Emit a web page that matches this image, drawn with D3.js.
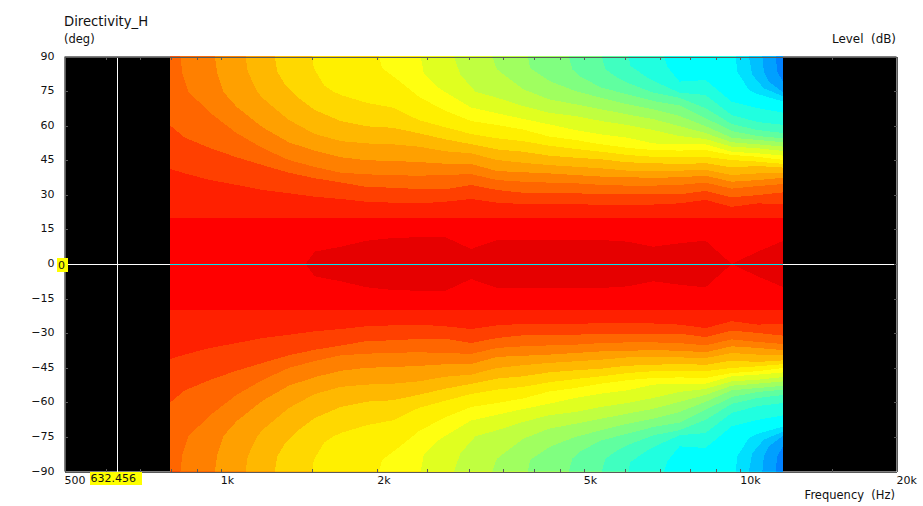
<!DOCTYPE html>
<html><head><meta charset="utf-8">
<script src="https://cdn.jsdelivr.net/npm/d3@7"></script>
<style>
html,body{margin:0;padding:0;background:#fff}
svg{display:block}
text{font-family:"DejaVu Sans",Verdana,sans-serif;font-size:11px;fill:#111;white-space:pre}
</style></head><body><div id="chart"></div>
<script>
// Frequency columns (Hz)
const frequencies = [800,851,955,1072,1203,1351,1516,1702,1910,2144,2407,2702,3033,3404,3821,4289,4814,5403,6065,6807,7641,8577,9628,10807,12130];
// Contour angles (deg). Each list starts with extra points at the frequencies of its h-list
// (where the contour leaves the top edge), then runs to the last frequency column.
const h01 = [], c01 = [20,20,20,20,20,20,20,20,20,20,20,20,20,20,20,20,20,20,20,20,20,20,20,20,20];
const h02 = [], c02 = [41.5,39.3,36.4,34.3,32.1,30.7,29.2,28.2,27.0,26.6,26.3,27.0,28.2,26.6,26.0,26.0,26.0,25.6,25.6,25.8,26.3,27.8,24.8,26.3,25.9];
const h03 = [], c03 = [60.7,54.9,50.2,46.3,42.9,39.6,37.2,35.4,33.4,33.1,32.5,32.4,34.3,32.1,30.9,30.7,30.7,30.2,30.2,30.2,30.2,31.7,28.9,29.9,31.1];
const h04 = [836,843,867], c04 = [90,82.8,74.6,65.5,56.8,50.3,45.1,42.1,39.6,38.9,38.5,38.3,38.6,39.0,36.4,35.7,35.3,35.0,34.3,34.0,34.0,34.3,35.3,32.7,33.8,34.7];
const h05 = [974,984,1012], c05 = [90,82.8,74.6,68.2,59.3,52.8,49.1,46.3,45.0,44.7,44.2,43.5,43.4,40.3,39.8,39.3,38.6,37.9,37.6,37.4,37.6,38.3,35.7,36.4,37.4];
const h06 = [1116,1127,1175], c06 = [90,83.4,74.7,72.0,62.5,56.4,53.3,52.3,51.9,50.9,48.9,48.0,45.1,43.9,42.9,42.2,41.5,40.5,40.5,40.5,40.8,38.6,39.3,39.6];
const h07 = [1270,1284,1332,1403], c07 = [90,83.4,77.6,72.5,66.8,62.0,59.7,59.1,56.7,54.1,52.0,49.7,48.7,47.0,46.1,45.4,44.1,43.8,43.2,43.8,41.9,42.5,41.8];
const h08 = [1500,1510,1579,1651], c08 = [90,84.9,77.6,74.7,73.3,69.9,67.8,62.4,59.3,56.4,54.5,53.3,51.3,49.9,48.7,47.3,46.5,46.3,46.5,45.1,44.4,43.4];
const h09 = [2015,2046,2202], c09 = [90,84.9,79.5,72.5,66.5,62.0,60.3,58.3,55.3,53.8,51.9,50.4,49.4,49.2,49.4,47.3,46.5,45.1];
const h10 = [2425,2460,2611], c10 = [90,82.7,76.9,74.6,67.9,65.4,62.9,60.6,58.1,56.2,54.8,52.3,51.9,51.9,48.7,48.0,47.0];
const h11 = [2810,2895,3094], c11 = [90,82.0,74.7,72.1,68.5,65.6,64.2,62.0,60.3,58.1,55.5,54.2,50.9,50.2,49.0];
const h12 = [3332,3381], c12 = [90,85.9,84.4,75.8,71.4,69.3,67.1,64.9,62.8,59.8,56.8,52.8,51.9,50.9];
const h13 = [3902,3937], c13 = [90,85.1,79.4,75.0,72.1,69.3,67.1,64.2,59.8,54.8,53.8,52.8];
const h14 = [4680,4751,4929], c14 = [90,84.4,81.2,76.5,73.6,70.7,68.8,63.3,57.7,55.5,54.5];
const h15 = [5410,5507,5799], c15 = [90,84.4,80.8,78.6,74.3,72.1,67.6,60.7,58.1,56.8];
const h16 = [6090,6152,6627], c16 = [90,85.9,80.8,79.4,74.3,73.3,64.6,61.6,60.3];
const h17 = [7131,7240], c17 = [90,85.6,79.1,79.8,70.4,67.6,65.6];
const h18 = [9800,9877,10397], c18 = [90,83.4,75.5,73.7,70.4];
const h19 = [10397,10553,11113], c19 = [90,82.0,76.2,72.6];
const h20 = [11033,11113,11361], c20 = [90,83.4,79.1,74.2];
const h21 = [11703,11790], c21 = [90,83.4,78.5];
const contourHeads = [h01,h02,h03,h04,h05,h06,h07,h08,h09,h10,h11,h12,h13,h14,h15,h16,h17,h18,h19,h20,h21];
const contours = [c01,c02,c03,c04,c05,c06,c07,c08,c09,c10,c11,c12,c13,c14,c15,c16,c17,c18,c19,c20,c21];
const bandColors = ["#ff2000","#ff4000","#ff6600","#ff8000","#ffa000","#ffb800","#ffd800","#fff000","#ffff10","#e0ff20","#c0ff40","#a0ff60","#80ff80","#60ffa0","#40ffc0","#20ffe0","#00ffff","#00e0ff","#00c0ff","#00a0ff","#0080ff"];
const baseColor = "#ff0000", coreColor = "#e60000";
// On-axis darker core: half-width (deg) by frequency
const coreFrequencies = [1456,1516,1702,1910,2144,2407,2702,3033,3404,3821,4289,4814,5403,6065,6807,7641,8577,9628,10807,12130];
const coreWidths = [0,5.35,7.5,10.1,11.3,11.6,11.7,6.5,10.4,10.3,10.4,10.4,10.4,9.7,7.5,9,10.1,0,5.35,10.1];
// Axis ticks
const xTicks = [500,600,700,800,900,1000,1500,2000,2500,3000,3500,4000,4500,5000,6000,7000,8000,9000,10000,15000,20000];
const xLabels = new Map([[500,"500"],[1000,"1k"],[2000,"2k"],[5000,"5k"],[10000,"10k"],[20000,"20k"]]);
const yTicks = [90,75,60,45,30,15,0,-15,-30,-45,-60,-75,-90];
const cursorFrequency = 632.456, cursorAngle = 0;

const W = 923, H = 506;
const x = d3.scaleLog().domain([500,20000]).range([64.5,896.5]);
const y = d3.scaleLinear().domain([90,-90]).range([56.5,471.5]);
const svg = d3.select("#chart").append("svg").attr("width",W).attr("height",H);

svg.append("rect").attr("x",x.range()[0]).attr("y",y.range()[0])
  .attr("width",x.range()[1]-x.range()[0]).attr("height",y.range()[1]-y.range()[0]).attr("fill","#000");

const fMin = frequencies[0], fMax = frequencies[frequencies.length-1];
svg.append("clipPath").attr("id","data").append("rect")
  .attr("x",Math.floor(x(fMin))).attr("y",y.range()[0])
  .attr("width",Math.floor(x(fMax))-Math.floor(x(fMin))).attr("height",y.range()[1]-y.range()[0]);
const plot = svg.append("g").attr("clip-path","url(#data)").attr("shape-rendering","crispEdges");

plot.append("rect").attr("x",x(fMin)-2).attr("y",y(90)).attr("width",x(fMax)-x(fMin)+4).attr("height",y(-90)-y(90)).attr("fill",baseColor);

// A contour that starts at the first column is carried 2px further left so its fill meets the clip edge.
const xAt = (f,i) => (i===0 && f===fMin) ? x(f)-2 : x(f);
const band = (freqs,sign) => d3.area()
  .x((d,i)=>xAt(freqs[i],i))
  .y0(d=>y(sign*d))
  .y1(()=>y(sign*180));

contours.forEach((c,k)=>{
  const head = contourHeads[k];
  const freqs = [...head, ...frequencies.slice(frequencies.length-(c.length-head.length))];
  [1,-1].forEach(s=>{
    plot.append("path").attr("d",band(freqs,s)(c)).attr("fill",bandColors[k]);
  });
});

plot.append("path")
  .attr("d",d3.area().x((d,i)=>x(coreFrequencies[i])).y0(d=>y(-d)).y1(d=>y(d))(coreWidths))
  .attr("fill",coreColor);

// Cursor lines
const cx = Math.round(x(cursorFrequency)-0.5)+0.5, cy = y(cursorAngle)+0.5;
svg.append("line").attr("x1",cx).attr("x2",cx).attr("y1",y(90)).attr("y2",y(-90)).attr("stroke","#fff").attr("shape-rendering","crispEdges");
svg.append("line").attr("x1",x(500)).attr("x2",x(20000)).attr("y1",cy).attr("y2",cy).attr("stroke","#fff").attr("shape-rendering","crispEdges");
svg.append("line").attr("x1",Math.floor(x(fMin))).attr("x2",Math.floor(x(fMax))).attr("y1",cy).attr("y2",cy).attr("stroke","#00e6f0").attr("shape-rendering","crispEdges");

// Axes
const axisColor = "#5a5a5a";
function style(g){
  g.selectAll(".domain").attr("stroke",axisColor);
  g.selectAll(".tick line").attr("stroke",axisColor);
  g.attr("shape-rendering","crispEdges");
  g.selectAll("text").attr("fill","#111").style("font-family",'"DejaVu Sans",Verdana,sans-serif').style("font-size","11px");
}
const bottom = svg.append("g").attr("transform",`translate(0,${y(-90)})`)
  .call(d3.axisBottom(x).tickValues(xTicks).tickSize(-3).tickSizeOuter(0).tickFormat(d=>xLabels.get(d)||"")).call(style);
bottom.selectAll("text").attr("text-anchor","start").attr("y",5).attr("dy","0.71em").attr("x",-0.5);
svg.append("g").attr("transform",`translate(0,${y(90)})`)
  .call(d3.axisTop(x).tickValues(xTicks).tickSize(-3).tickSizeOuter(0).tickFormat("")).call(style);
const left = svg.append("g").attr("transform",`translate(${x(500)},0)`)
  .call(d3.axisLeft(y).tickValues(yTicks).tickSize(-3).tickSizeOuter(0).tickFormat(d3.format("d"))).call(style);
left.selectAll("text").attr("x",-10).attr("y",-1);
svg.append("g").attr("transform",`translate(${x(20000)},0)`)
  .call(d3.axisRight(y).tickValues(yTicks).tickSize(-3).tickSizeOuter(0).tickFormat("")).call(style);

// Titles
svg.append("text").attr("x",64).attr("y",26).style("font-size","13.2px").text("Directivity_H");
svg.append("text").attr("x",64).attr("y",43).style("font-size","11.5px").text("(deg)");
svg.append("text").attr("x",896).attr("y",43).attr("text-anchor","end").style("font-size","11.9px").text("Level  (dB)");
svg.append("text").attr("x",895).attr("y",499).attr("text-anchor","end").style("font-size","11.5px").text("Frequency  (Hz)");

// Cursor read-outs
svg.append("rect").attr("x",57).attr("y",258).attr("width",11).attr("height",14).attr("fill","#ffff00");
svg.append("text").attr("x",58).attr("y",269).text(String(cursorAngle));
svg.append("rect").attr("x",90).attr("y",472).attr("width",52).attr("height",13).attr("fill","#ffff00");
svg.append("text").attr("x",90.5).attr("y",482).text(String(cursorFrequency));
</script></body></html>
